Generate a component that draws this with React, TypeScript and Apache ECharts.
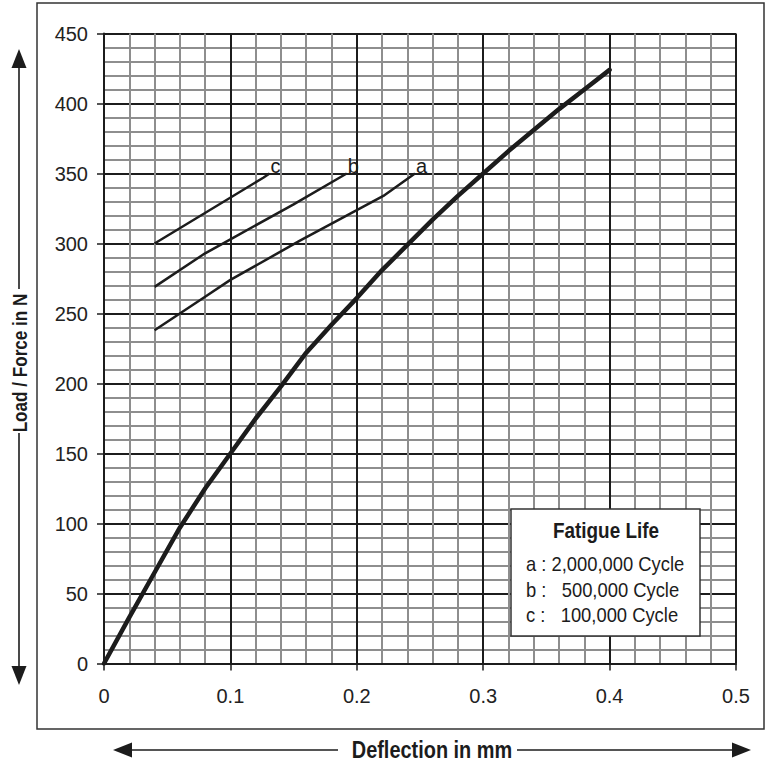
import React, { useEffect, useRef } from "react";
import * as echarts from "echarts";

const xTickLabels = ["0", "0.1", "0.2", "0.3", "0.4", "0.5"];
const yTickLabels = ["0", "50", "100", "150", "200", "250", "300", "350", "400", "450"];

const mainX = [0, 0.02, 0.04, 0.06, 0.08, 0.1, 0.12, 0.14, 0.16, 0.18, 0.2, 0.22, 0.24, 0.26, 0.28, 0.3, 0.32, 0.34, 0.36, 0.38, 0.4];
const mainY = [0, 33, 65, 97, 125, 150, 175, 198, 222, 242, 261, 281, 299, 317, 334, 350, 366, 381, 396, 410, 424];

const aX = [0.04, 0.08, 0.1, 0.155, 0.221, 0.246];
const aY = [238, 262, 274, 302, 334, 350];
const bX = [0.04, 0.08, 0.1, 0.15, 0.192];
const bY = [269, 293, 303, 328, 350];
const cX = [0.04, 0.126, 0.131];
const cY = [300, 347, 350];

const curveNames = ["a", "b", "c"];
const legendTitle = "Fatigue Life";
const legendLines = ["a : 2,000,000 Cycle", "b :   500,000 Cycle", "c :   100,000 Cycle"];
const xTitle = "Deflection in mm";
const yTitle = "Load / Force in N";

const FONT = "'Liberation Sans', Arial, sans-serif";
const INK = "#1c1c1c";

function pairs(xs: number[], ys: number[]) {
  return xs.map((x, i) => [x, ys[i]]);
}

export default function App() {
  const ref = useRef<HTMLDivElement>(null);
  useEffect(() => {
    if (!ref.current) return;
    const chart = echarts.init(ref.current, null, { renderer: "svg" });
    const thin = (name: string, xs: number[], ys: number[]) => ({
      type: "line",
      name,
      data: pairs(xs, ys),
      symbol: "none",
      lineStyle: { color: INK, width: 2.5 },
      z: 5,
      endLabel: {
        show: true,
        formatter: name,
        distance: 1,
        offset: [0, -8],
        color: INK,
        fontFamily: FONT,
        fontSize: 20,
      },
    });
    const arrowStyle = { fill: INK };
    const lineStyle = { stroke: INK, lineWidth: 1.6 };
    chart.setOption({
      animation: false,
      backgroundColor: "#ffffff",
      grid: { left: 104, top: 33.5, width: 632, height: 630, containLabel: false },
      xAxis: {
        type: "value",
        min: 0,
        max: 0.5,
        interval: 0.1,
        axisLine: { show: true, onZero: false, lineStyle: { color: INK, width: 2 } },
        axisTick: { show: true, length: 7, lineStyle: { color: INK, width: 1.5 } },
        axisLabel: {
          margin: 22,
          color: "#222",
          fontFamily: FONT,
          fontSize: 20,
          formatter: (v: number) => xTickLabels[Math.round(v / 0.1)],
        },
        splitLine: { show: true, lineStyle: { color: INK, width: 2 } },
        minorTick: { show: false, splitNumber: 5 },
        minorSplitLine: { show: true, lineStyle: { color: "#8e8e8e", width: 2 } },
      },
      yAxis: {
        type: "value",
        min: 0,
        max: 450,
        interval: 50,
        axisLine: { show: true, onZero: false, lineStyle: { color: INK, width: 2 } },
        axisTick: { show: true, length: 7, lineStyle: { color: INK, width: 1.5 } },
        axisLabel: {
          margin: 16,
          color: "#222",
          fontFamily: FONT,
          fontSize: 20,
          formatter: (v: number) => yTickLabels[Math.round(v / 50)],
        },
        splitLine: { show: true, lineStyle: { color: INK, width: 2 } },
        minorTick: { show: false, splitNumber: 5 },
        minorSplitLine: { show: true, lineStyle: { color: "#8e8e8e", width: 2 } },
      },
      series: [
        {
          type: "line",
          name: "main",
          data: pairs(mainX, mainY),
          symbol: "none",
          lineStyle: { color: INK, width: 4.5, cap: "round" },
          z: 6,
        },
        thin(curveNames[0], aX, aY),
        thin(curveNames[1], bX, bY),
        thin(curveNames[2], cX, cY),
      ],
      graphic: [
        {
          type: "rect",
          z: 50,
          shape: { x: 37, y: 3, width: 727, height: 726 },
          style: { fill: "none", stroke: "#333", lineWidth: 1.5 },
        },
        {
          type: "rect",
          z: 100,
          shape: { x: 511, y: 509, width: 189, height: 127 },
          style: { fill: "#fff", stroke: "#333", lineWidth: 1.5 },
        },
        {
          type: "text",
          z: 101,
          x: 606,
          y: 530,
          scaleX: 0.86,
          style: { text: legendTitle, font: `bold 22px ${FONT}`, fill: INK, align: "center", verticalAlign: "middle" },
        },
        ...legendLines.map((t, i) => ({
          type: "text",
          z: 101,
          x: 526,
          y: 564 + i * 25.5,
          scaleX: 0.875,
          style: { text: t, font: `21px ${FONT}`, fill: INK, align: "left", verticalAlign: "middle" },
        })),
        // y axis arrow and title
        { type: "line", z: 50, shape: { x1: 19, y1: 62, x2: 19, y2: 289 }, style: lineStyle },
        { type: "line", z: 50, shape: { x1: 19, y1: 433, x2: 19, y2: 670 }, style: lineStyle },
        { type: "polygon", z: 50, shape: { points: [[19, 49], [11.5, 68], [26.5, 68]] }, style: arrowStyle },
        { type: "polygon", z: 50, shape: { points: [[19, 685], [11.5, 666], [26.5, 666]] }, style: arrowStyle },
        {
          type: "text",
          z: 50,
          x: 20,
          y: 363,
          rotation: Math.PI / 2,
          scaleX: 0.815,
          style: { text: yTitle, font: `bold 21px ${FONT}`, fill: INK, align: "center", verticalAlign: "middle" },
        },
        // x axis arrow and title
        { type: "line", z: 50, shape: { x1: 125, y1: 750, x2: 338, y2: 750 }, style: lineStyle },
        { type: "line", z: 50, shape: { x1: 517, y1: 750, x2: 738, y2: 750 }, style: lineStyle },
        { type: "polygon", z: 50, shape: { points: [[113, 750], [132, 742.5], [132, 757.5]] }, style: arrowStyle },
        { type: "polygon", z: 50, shape: { points: [[751, 750], [732, 742.5], [732, 757.5]] }, style: arrowStyle },
        {
          type: "text",
          z: 50,
          x: 432,
          y: 750,
          scaleX: 0.83,
          style: { text: xTitle, font: `bold 24px ${FONT}`, fill: INK, align: "center", verticalAlign: "middle" },
        },
      ],
    });
    return () => chart.dispose();
  }, []);
  return (
    <div
      ref={ref}
      style={{ position: "fixed", left: 0, top: 0, width: 773, height: 765, background: "#fff" }}
    />
  );
}
